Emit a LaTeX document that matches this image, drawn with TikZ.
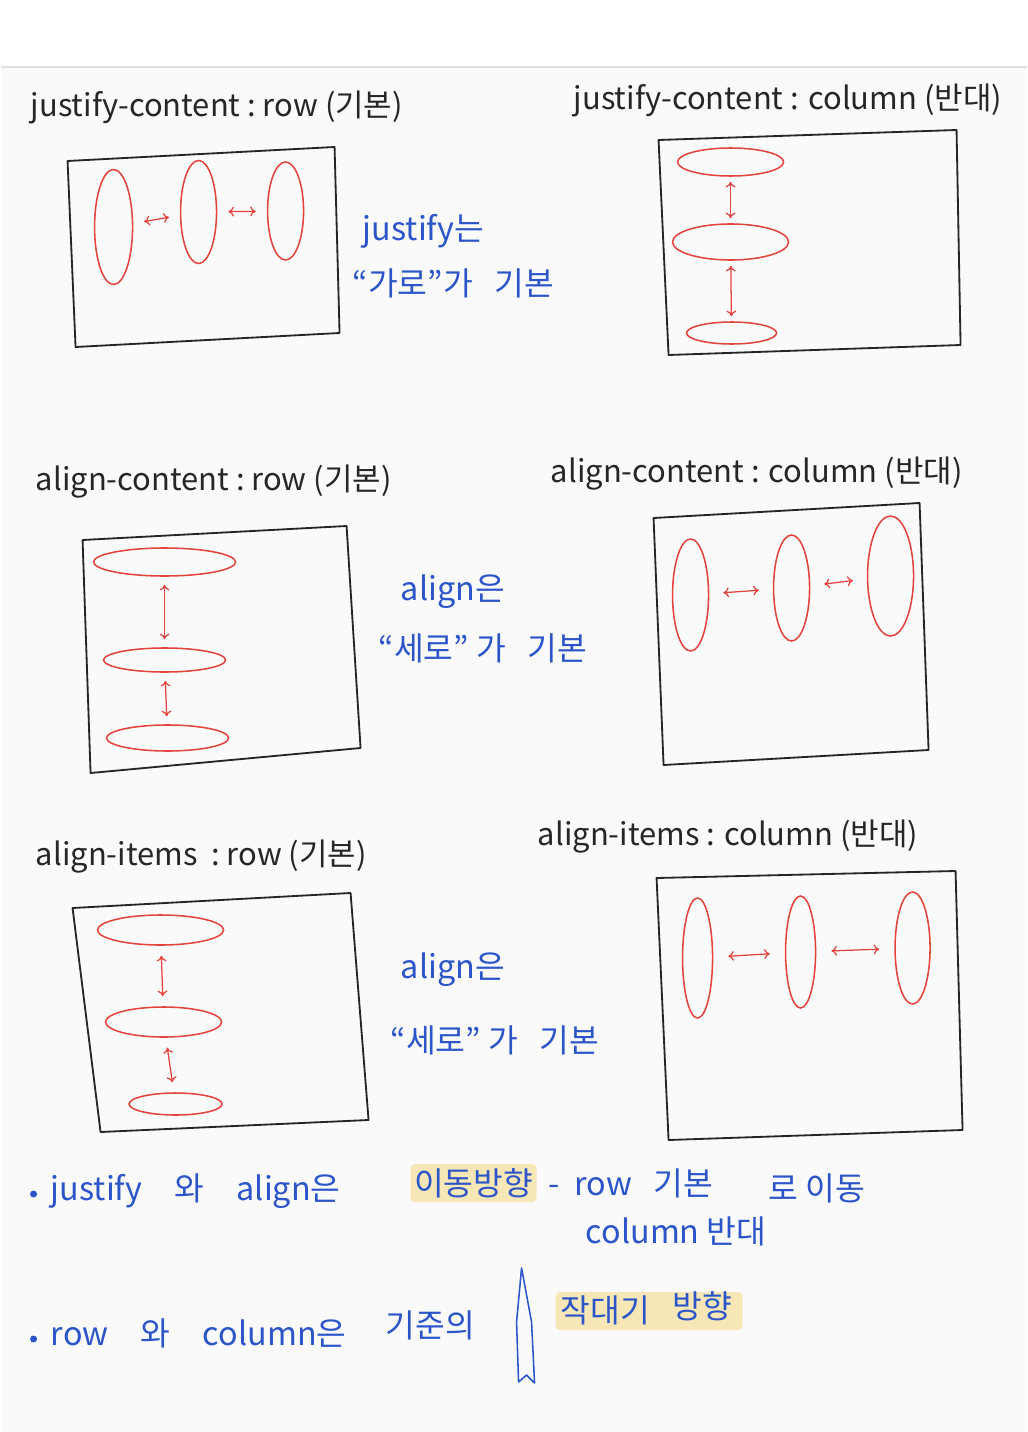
\documentclass[tikz,border=0pt]{standalone}
\usepackage{fontspec}
\setmainfont{Noto Sans CJK KR}
\usetikzlibrary{shapes.geometric, arrows.meta, positioning}

\definecolor{penred}{HTML}{E2453F}
\definecolor{penblue}{HTML}{2B55C8}
\definecolor{penblack}{HTML}{262626}
\definecolor{marker}{HTML}{F8E7B6}
\definecolor{paper}{HTML}{FAFAFA}
\newdimen\px \px=0.025cm

\begin{document}
\begin{tikzpicture}[x=0.025cm, y=-0.025cm,
    headtext/.style={anchor=base west, inner sep=0pt, text=penblack, font=\fontsize{22}{26}\selectfont},
    bluenote/.style={anchor=base west, inner sep=0pt, text=penblue, font=\fontsize{23}{27}\selectfont},
    boxline/.style={draw=penblack, line width=1.3pt, line join=round},
    oval/.style={ellipse, draw=penred, line width=1.1pt, inner sep=0pt},
    gap/.style={penred, line width=0.9pt, {To[length=4pt, width=7pt]}-{To[length=4pt, width=7pt]}, shorten <=#1, shorten >=#1},
    gap/.default=7\px,
    hilite/.style={fill=marker, rounded corners=3pt}]

    % Page
    \fill[white] (0,0) rectangle (1026,67);
    \fill[paper] (0,67) rectangle (1026,1432);
    \draw[black!12, line width=0.8pt] (0,67) -- (1026,67);

    % justify-content : row
    \node[headtext] (jrowtitle) at (30,117) {justify-content\ :\ row\ (기본)};
    \draw[boxline] (67,161) -- (334,147) -- (339,333) -- (75,347) -- cycle;
    \node[oval, minimum width=38\px, minimum height=115\px] (jr1) at (113,227) {};
    \node[oval, minimum width=36\px, minimum height=103\px] (jr2) at (198,212) {};
    \node[oval, minimum width=36\px, minimum height=98\px] (jr3) at (285,211) {};
    \draw[gap=11\px] (jr1) -- (jr2);
    \draw[gap=11\px] (jr2) -- (jr3);

    % justify-content : column
    \node[headtext] (jcoltitle) at (573,110) {justify-content : column (반대)};
    \draw[boxline] (658,140) -- (956,130) -- (960,345) -- (668,355) -- cycle;
    \node[oval, minimum width=106\px, minimum height=28\px] (jc1) at (730,162) {};
    \node[oval, minimum width=116\px, minimum height=36\px] (jc2) at (730,242) {};
    \node[oval, minimum width=90\px, minimum height=22\px] (jc3) at (731,333) {};
    \draw[gap=5\px] (jc1) -- (jc2);
    \draw[gap=5\px] (jc2) -- (jc3);

    \node[bluenote] (jnote) at (362,240) {justify는};
    \node[bluenote] (jnote2) at (352,295) {“가로”가\ \ \ 기본};

    % align-content : row
    \node[headtext] (acrowtitle) at (35,490) {align-content\ :\ row\ (기본)};
    \draw[boxline] (82,540) -- (346,526) -- (360,748) -- (90,773) -- cycle;
    \node[oval, minimum width=142\px, minimum height=28\px] (ar1) at (164,562) {};
    \node[oval, minimum width=122\px, minimum height=24\px] (ar2) at (164,660) {};
    \node[oval, minimum width=122\px, minimum height=26\px] (ar3) at (167,738) {};
    \draw[gap=8\px] (ar1) -- (ar2);
    \draw[gap=8\px] (ar2) -- (ar3);

    % align-content : column
    \node[headtext] (accoltitle) at (550,482) {align-content : column (반대)};
    \draw[boxline] (653,518) -- (919,503) -- (928,750) -- (663,765) -- cycle;
    \node[oval, minimum width=36\px, minimum height=112\px] (ac1) at (690,595) {};
    \node[oval, minimum width=36\px, minimum height=106\px] (ac2) at (791,588) {};
    \node[oval, minimum width=46\px, minimum height=120\px] (ac3) at (890,576) {};
    \draw[gap=14\px] (ac1) -- (ac2);
    \draw[gap=14\px] (ac2) -- (ac3);

    \node[bluenote] (anote) at (400,600) {align은};
    \node[bluenote] (anote2) at (378,660) {“세로” 가\ \ \ 기본};

    % align-items : row
    \node[headtext] (airowtitle) at (35,865) {align-items\ \ :\ row\ (기본)};
    \draw[boxline] (72,908) -- (350,893) -- (368,1120) -- (100,1132) -- cycle;
    \node[oval, minimum width=126\px, minimum height=30\px] (ir1) at (160,930) {};
    \node[oval, minimum width=116\px, minimum height=30\px] (ir2) at (163,1022) {};
    \node[oval, minimum width=93\px, minimum height=22\px] (ir3) at (175,1104) {};
    \draw[gap=10\px] (ir1) -- (ir2);
    \draw[gap=10\px] (ir2) -- (ir3);

    % align-items : column
    \node[headtext] (aicoltitle) at (537,845) {align-items : column (반대)};
    \draw[boxline] (656,878) -- (955,871) -- (962,1130) -- (668,1140) -- cycle;
    \node[oval, minimum width=30\px, minimum height=120\px] (ic1) at (697,958) {};
    \node[oval, minimum width=30\px, minimum height=112\px] (ic2) at (800,952) {};
    \node[oval, minimum width=35\px, minimum height=112\px] (ic3) at (912,948) {};
    \draw[gap=15\px] (ic1) -- (ic2);
    \draw[gap=15\px] (ic2) -- (ic3);

    \node[bluenote] (inote) at (400,978) {align은};
    \node[bluenote] (inote2) at (390,1052) {“세로” 가\ \ \ 기본};

    % Summary
    \fill[penblue] (33,1194) circle (3.5\px);
    \node[bluenote] (sum1) at (50,1200) {justify\quad 와\quad align은};
    \fill[hilite] (410,1164) rectangle (536,1202);
    \node[bluenote, anchor=center] (move) at (473,1183) {이동방향};
    \node[bluenote] (rowbase) at (548,1195) {-\ \ row\ \ \ 기본};
    \node[bluenote] (moveto) at (768,1200) {로 이동};
    \node[bluenote] (colopp) at (585,1243) {column 반대};

    \fill[penblue] (33,1339) circle (3.5\px);
    \node[bluenote] (sum2) at (50,1345) {row\quad 와\quad column은};
    \node[bluenote] (basis) at (385,1337) {기준의};
    \draw[penblue, line width=1.1pt, line join=round]
        (521,1268) -- (516,1322) -- (518,1382) -- (526,1375) -- (534,1383) -- (531,1322) -- cycle;
    \fill[hilite] (555,1292) rectangle (742,1330);
    \node[bluenote] (stick) at (560,1322) {작대기};
    \node[bluenote] (dir) at (672,1318) {방향};

\end{tikzpicture}
\end{document}
